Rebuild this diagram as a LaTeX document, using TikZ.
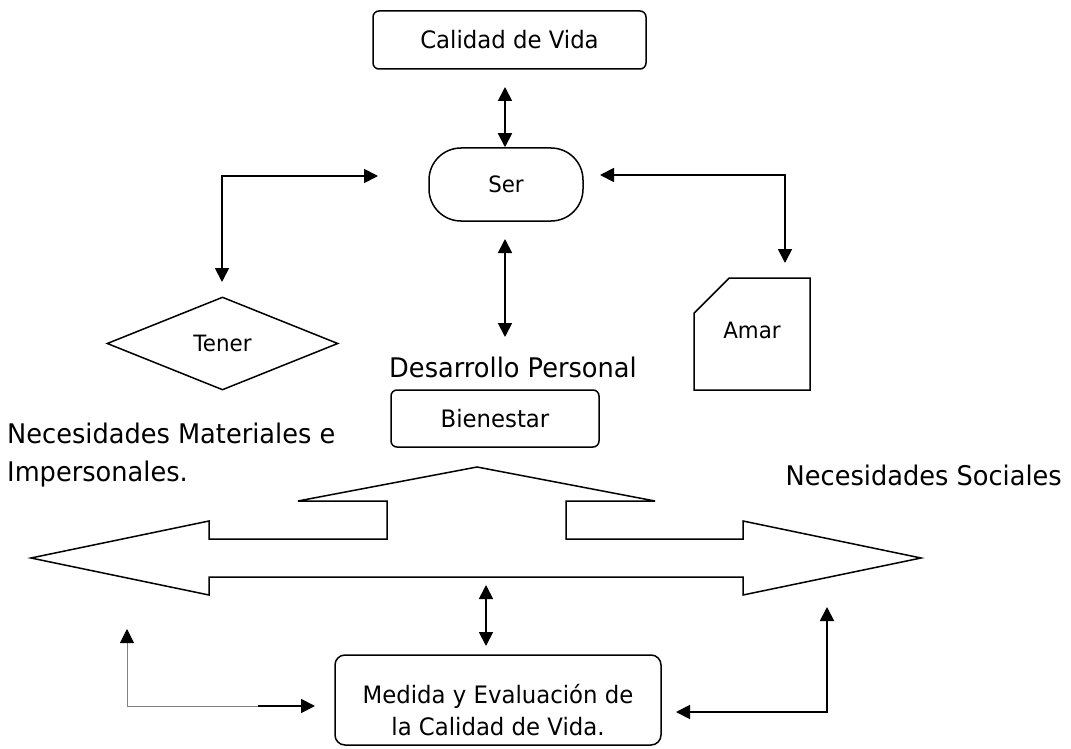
\documentclass[tikz,border=0pt]{standalone}
\usepackage{fontspec}
\setmainfont{DejaVu Sans}[FakeStretch=0.95]
\usetikzlibrary{arrows.meta,shapes.geometric,shapes.misc}
\begin{document}
\begin{tikzpicture}[x=1pt,y=-1pt,
  >={Triangle[width=14pt,length=14pt]},
  box/.style={draw,line width=1.5pt,rounded corners=6pt,inner sep=0pt},
  conn/.style={line width=1.8pt,<->},
  thinconn/.style={gray,line width=0.8pt},
  fmid/.style={font=\fontsize{22.5}{27}\selectfont},
  fbox/.style={font=\fontsize{24}{32}\selectfont},
  fbig/.style={font=\fontsize{27}{38}\selectfont},
  bigarrow/.style={draw,line width=1.5pt,line join=miter}
]
\useasboundingbox (0,0) rectangle (1071,749);

% nodes
\node[box,fbox,minimum width=273pt,minimum height=58pt] (cv) at (509.5,40) {Calidad de Vida};
\node[box,fmid,rounded corners=32pt,minimum width=154pt,minimum height=73pt] (ser) at (506,184.5) {Ser};
\node[diamond,draw,line width=1.5pt,inner sep=0pt,fmid,minimum width=231pt,minimum height=93pt] (tener) at (222.5,343.5) {Tener};
\node[chamfered rectangle,chamfered rectangle corners=north west,chamfered rectangle xsep=23pt,chamfered rectangle ysep=23pt,draw,line width=1.5pt,inner sep=0pt,fmid,minimum width=116pt,minimum height=112pt] (amar) at (752,334) {\raisebox{8pt}{Amar}};
\node[fbig] (desarrollo) at (513,367) {Desarrollo Personal};
\node[box,fbox,minimum width=208pt,minimum height=57pt] (bien) at (495,418.5) {Bienestar};
\node[fbig,align=left,anchor=west,inner sep=0pt] (nmat) at (7,455) {Necesidades Materiales e\\Impersonales.};
\node[fbig,anchor=east,inner sep=0pt] (nsoc) at (1062,475) {Necesidades Sociales};
\node[box,rounded corners=10pt,minimum width=326pt,minimum height=90pt,
  label={[fbox,align=center,yshift=-10pt]center:Medida y Evaluación de\\la Calidad de Vida.}] (medida) at (498,700) {};

% big three-headed arrow
\draw[bigarrow] (477,467) -- (655,501) -- (566,501) -- (566,539) -- (743,539) -- (743,521)
  -- (921,558) -- (743,595) -- (743,577) -- (209,577) -- (209,595) -- (31,558)
  -- (209,521) -- (209,539) -- (387,539) -- (387,501) -- (298,501) -- cycle;

% connector ends
\coordinate (cvA) at (505,87);
\coordinate (serL) at (378,176);
\coordinate (tenT) at (222,282);
\coordinate (serR) at (600,175);
\coordinate (amT) at (785,263);
\coordinate (serB) at (505,239);
\coordinate (desT) at (505,337);
\coordinate (arrB) at (486,585);
\coordinate (medT) at (486,646);
\coordinate (blU) at (127,629);
\coordinate (blM) at (258,706);
\coordinate (blE) at (315,706);
\coordinate (brL) at (676,712);
\coordinate (brU) at (827,607);

% connectors
\draw[conn] (cvA) -- (cvA |- ser.north);
\draw[conn] (serL) -| (tenT);
\draw[conn] (serR) -| (amT);
\draw[conn] (serB) -- (desT);
\draw[conn] (arrB) -- (medT);
\draw[thinconn,-{Triangle[width=14pt,length=14pt,color=black]}] (blM) -| (blU);
\draw[line width=1.8pt,->] (blM) -- (blE);
\draw[conn] (brL) -| (brU);
\end{tikzpicture}
\end{document}
